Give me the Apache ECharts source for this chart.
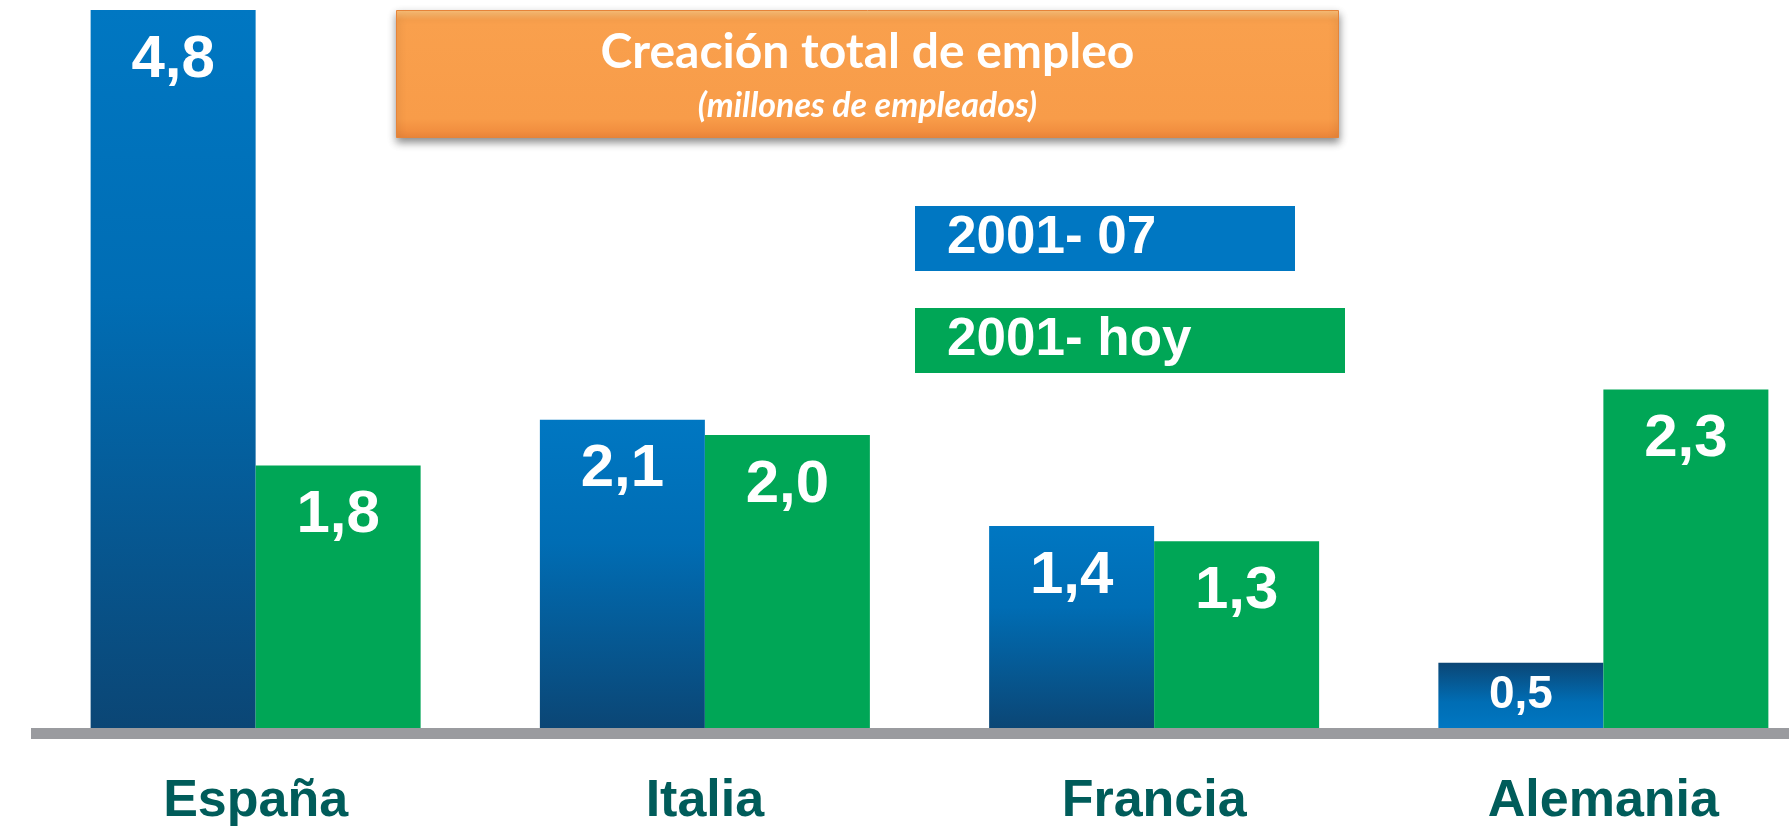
<!DOCTYPE html>
<html>
<head>
<meta charset="utf-8">
<script src="https://cdn.jsdelivr.net/npm/echarts@6/dist/echarts.min.js"></script>
<style>
  html, body { margin: 0; padding: 0; background: #fff; }
  #chart { width: 1789px; height: 826px; }
</style>
</head>
<body>
<div id="chart"></div>
<script>
// datos
const paises = ['España', 'Italia', 'Francia', 'Alemania'];
const periodo1 = [4.8, 2.1, 1.4, 0.5];   // 2001- 07
const periodo2 = [1.8, 2.0, 1.3, 2.3];   // 2001- hoy
const nombresSeries = ['2001- 07', '2001- hoy'];
const titulo = 'Creación total de empleo';
const subtitulo = '(millones de empleados)';

let myChart = echarts.init(document.getElementById('chart'));

// degradado azul de las barras
const gradAzul = new echarts.graphic.LinearGradient(0, 0, 0, 1, [
  { offset: 0, color: '#0077c2' },
  { offset: 0.4, color: '#006db4' },
  { offset: 1, color: '#0b4675' }
]);
const gradAzulInv = new echarts.graphic.LinearGradient(0, 1, 0, 0, [
  { offset: 0, color: '#0077c2' },
  { offset: 0.4, color: '#006db4' },
  { offset: 1, color: '#0b4675' }
]);

let fmt = (p) => p.value.toFixed(1).replace('.', ',');

let etiqueta = {
  show: true,
  position: 'insideTop',
  distance: 20,
  color: '#fff',
  fontFamily: 'Liberation Sans',
  fontWeight: 'bold',
  fontSize: 60,
  formatter: fmt
};

// barras cortas: etiqueta centrada y degradado invertido
let datos1 = periodo1.map((v) => v < 1
  ? { value: v, itemStyle: { color: gradAzulInv }, label: { position: 'inside', fontSize: 46 } }
  : { value: v });

let option = {
  animation: false,
  backgroundColor: '#fff',
  grid: { left: 31, width: 1797, top: 10, bottom: 98, outerBoundsMode: 'none', containLabel: false },
  legend: {
    orient: 'vertical',
    left: 905,
    top: 201,
    itemWidth: 0,
    itemHeight: 0,
    icon: 'none',
    itemGap: 37,
    selectedMode: false,
    textStyle: {
      color: '#fff',
      fontFamily: 'Liberation Sans',
      fontWeight: 'bold',
      fontSize: 53,
      lineHeight: 65,
      padding: [0, 0, 0, 32]
    },
    data: [
      { name: nombresSeries[0], textStyle: { backgroundColor: '#0077c2', width: 348 } },
      { name: nombresSeries[1], textStyle: { backgroundColor: '#00a656', width: 398 } }
    ]
  },
  xAxis: {
    type: 'category',
    data: paises,
    offset: 5.5,
    axisTick: { show: false },
    axisLine: { lineStyle: { color: '#9a9b9f', width: 11, cap: 'butt' } },
    axisLabel: {
      margin: 42,
      color: '#005c5a',
      fontFamily: 'Liberation Sans',
      fontWeight: 'bold',
      fontSize: 52
    }
  },
  yAxis: {
    type: 'value',
    min: 0.07,
    max: 4.8,
    startValue: 0.07,
    show: false,
    splitLine: { show: false }
  },
  series: [
    {
      name: nombresSeries[0],
      type: 'bar',
      clip: true,
      barWidth: 165,
      barGap: '0%',
      itemStyle: { color: gradAzul },
      label: etiqueta,
      data: datos1
    },
    {
      name: nombresSeries[1],
      type: 'bar',
      clip: true,
      barWidth: 165,
      barGap: '0%',
      itemStyle: { color: '#00a656' },
      label: etiqueta,
      data: periodo2
    }
  ],
  graphic: [
    {
      type: 'group',
      left: 396,
      top: 10,
      children: [
        {
          type: 'rect',
          shape: { x: 0, y: 0, width: 942, height: 127 },
          style: {
            fill: new echarts.graphic.LinearGradient(0, 0, 0, 1, [
              { offset: 0, color: '#fcc27a' },
              { offset: 0.08, color: '#f9a04d' },
              { offset: 0.85, color: '#f89c49' },
              { offset: 1, color: '#ee873a' }
            ]),
            stroke: '#e5843a',
            lineWidth: 1,
            shadowBlur: 8,
            shadowOffsetY: 4,
            shadowColor: 'rgba(0,0,0,0.45)'
          }
        },
        {
          type: 'text',
          x: 471,
          y: 42,
          style: {
            text: titulo,
            fill: '#fff',
            font: 'bold 48px Lato',
            textAlign: 'center',
            textVerticalAlign: 'middle'
          }
        },
        {
          type: 'text',
          x: 471,
          y: 96,
          style: {
            text: subtitulo,
            fill: '#fff',
            font: 'italic bold 34px Lato',
            textAlign: 'center',
            textVerticalAlign: 'middle'
          }
        }
      ]
    }
  ]
};

myChart.setOption(option);
window.addEventListener('resize', function () {
  myChart.resize();
});
</script>
</body>
</html>
